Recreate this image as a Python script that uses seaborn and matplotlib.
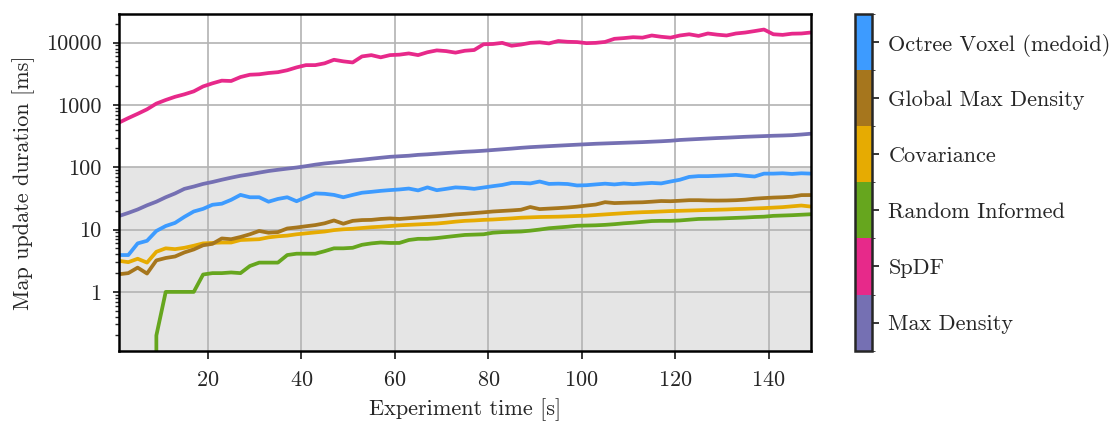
import numpy as np
import pandas as pd
import matplotlib
matplotlib.use("Agg")
import matplotlib.pyplot as plt
import seaborn as sns
from matplotlib.colors import ListedColormap, BoundaryNorm
from matplotlib.cm import ScalarMappable
from matplotlib.ticker import FuncFormatter, NullFormatter

# %% data (one sample every 2 s)
time_s = np.arange(1, 151, 2)

max_density = [16.5, 18.5, 21, 24.5, 28, 33, 38, 45, 49, 54, 58, 63, 68, 73, 77, 82, 87, 91, 95,
               99, 104, 110, 115, 119, 123, 128, 132, 137, 142, 147, 150, 153, 158, 161, 165, 169, 173, 177,
               180, 184, 189, 194, 199, 205, 210, 214, 218, 222, 226, 230, 234, 238, 241, 244, 247, 250, 253,
               257, 261, 266, 274, 279, 284, 289, 294, 298, 303, 308, 312, 316, 320, 323, 327, 335, 345]
spdf = [520, 615, 720, 850, 1050, 1200, 1350, 1480, 1650, 1980, 2220, 2450, 2420, 2800, 3050, 3100, 3250, 3350, 3600,
        4000, 4350, 4350, 4650, 5300, 5000, 4800, 6000, 6290, 5800, 6300, 6400, 6700, 6300, 7000, 7500, 7300, 6900, 7400,
        7600, 9400, 9500, 9900, 8900, 9300, 9900, 10100, 9700, 10600, 10300, 10200, 9800, 9900, 10250, 11500, 11800, 12200, 12000,
        13000, 12400, 12000, 13000, 13600, 12800, 14000, 13400, 13000, 14000, 14500, 15300, 16200, 13600, 13300, 13900, 14000, 14500]
random_informed = [0, 0, 0, 0, 0.2, 1, 1, 1, 1, 1.9, 2, 2, 2.05, 2.0, 2.6, 2.95, 2.95, 2.95, 3.9,
                   4.1, 4.1, 4.1, 4.5, 5.0, 5.0, 5.1, 5.7, 6.0, 6.2, 6.1, 6.1, 6.8, 7.1, 7.1, 7.3, 7.6, 7.9, 8.2,
                   8.3, 8.4, 8.9, 9.1, 9.2, 9.3, 9.6, 10.0, 10.5, 10.8, 11.1, 11.5, 11.6, 11.7, 11.9, 12.2, 12.6, 12.9, 13.3,
                   13.7, 13.8, 13.8, 14.0, 14.4, 14.8, 14.9, 15.0, 15.2, 15.4, 15.6, 15.9, 16.1, 16.6, 16.8, 17.0, 17.3, 17.6]
covariance = [3.15, 3.0, 3.4, 2.95, 4.4, 5.0, 4.85, 5.1, 5.5, 6.0, 6.1, 6.2, 6.2, 6.8, 6.9, 7.0, 7.5, 7.8, 8.0,
              8.4, 8.7, 9.0, 9.3, 9.8, 10.1, 10.3, 10.6, 10.9, 11.1, 11.4, 11.7, 11.9, 12.1, 12.3, 12.5, 12.9, 13.4, 13.8,
              14.0, 14.3, 14.5, 14.8, 15.1, 15.5, 15.7, 15.9, 16.0, 16.1, 16.3, 16.5, 16.7, 17.1, 17.5, 17.9, 18.3, 18.7, 19.0,
              19.2, 19.5, 19.8, 20.0, 20.2, 20.4, 20.6, 20.8, 21.0, 21.3, 21.5, 21.8, 22.1, 22.5, 22.9, 23.6, 24.3, 23.4]
global_max_density = [1.92, 2.0, 2.45, 1.97, 3.2, 3.5, 3.7, 4.3, 4.8, 5.6, 5.9, 7.2, 7.0, 7.6, 8.4, 9.5, 8.9, 9.1, 10.4,
                      10.8, 11.3, 11.8, 12.6, 14.0, 12.4, 13.8, 14.2, 14.3, 14.8, 15.1, 14.8, 15.2, 15.6, 16.0, 16.4, 16.9, 17.5, 17.9,
                      18.4, 18.9, 19.5, 19.9, 20.3, 20.8, 23.0, 21.3, 21.7, 22.1, 22.6, 23.3, 24.3, 25.2, 27.5, 26.6, 26.9, 27.2, 27.4,
                      28.0, 28.7, 28.5, 29.0, 29.6, 29.6, 29.3, 29.2, 29.3, 29.6, 30.2, 31.3, 32.0, 32.6, 33.0, 33.7, 35.7, 35.8]
octree_voxel = [3.9, 3.9, 6.0, 6.6, 9.5, 11.4, 12.8, 16.0, 19.5, 21.5, 25.0, 26.0, 30.0, 36.0, 33.0, 33.0, 28.0, 31.0, 33.0,
                28.5, 33, 38, 37.5, 36, 33, 36, 39, 40.3, 41.8, 43, 44, 45.5, 42.5, 47.5, 42.8, 45, 47.5, 46.7,
                45, 47.3, 49.7, 52, 56, 56, 55, 59, 54, 54.5, 53.8, 51, 51.5, 53, 54.5, 53, 54.8, 53.5, 54.8,
                56, 55, 59, 63, 70, 72, 72, 73, 74, 75.5, 73, 71, 79, 79, 80, 78, 80, 79]

methods = ["Max Density", "SpDF", "Random Informed", "Covariance",
           "Global Max Density", "Octree Voxel (medoid)"]
colors = ["#7570b3", "#e7298a", "#66a61e", "#e6ab02", "#a6761d", "#3d9bff"]
series = [max_density, spdf, random_informed, covariance, global_max_density, octree_voxel]

df = pd.concat(
    [pd.DataFrame({"time": time_s, "duration": vals, "method": m}) for m, vals in zip(methods, series)],
    ignore_index=True,
)

# %% style
sns.set_style("ticks")
plt.rcParams["font.family"] = "serif"
plt.rcParams["font.serif"] = ["cmr10", "DejaVu Serif"]
plt.rcParams["mathtext.fontset"] = "cm"
plt.rcParams["axes.formatter.use_mathtext"] = True
plt.rcParams["axes.unicode_minus"] = False

fig = plt.figure(figsize=(11.15, 4.23), dpi=100)
ax = fig.add_axes([0.1067, 0.171, 0.6204, 0.796])
cax = fig.add_axes([0.7668, 0.171, 0.015, 0.796])

sns.lineplot(data=df, x="time", y="duration", hue="method", hue_order=methods,
             palette=colors, linewidth=2.7, estimator=None, legend=False, ax=ax)

ax.set_yscale("log")
ax.set_xlim(1, 149)
ax.set_ylim(0.114, 28800)
ax.axhspan(1e-3, 100, color="#e5e5e5", zorder=0, lw=0)
ax.set_axisbelow(True)
ax.grid(True, which="major", color="#b3b3b3", linewidth=1.2)
ax.set_xticks([20, 40, 60, 80, 100, 120, 140])
ax.yaxis.set_major_formatter(FuncFormatter(lambda v, _: f"{v:g}"))
ax.yaxis.set_minor_formatter(NullFormatter())
for s in ax.spines.values():
    s.set_visible(True)
    s.set_color("black")
    s.set_linewidth(1.8)
ax.tick_params(axis="x", which="major", length=6, width=1.3, pad=8, labelsize=16)
ax.tick_params(axis="y", which="major", length=4.5, width=1.3, pad=8, labelsize=16)
ax.tick_params(axis="y", which="minor", length=2.8, width=1.0)
ax.set_xlabel("Experiment time [s]", fontsize=16, labelpad=6)
ax.set_ylabel("Map update duration [ms]", fontsize=16, labelpad=8)

# %% colour bar legend
cmap = ListedColormap(colors)
norm = BoundaryNorm(np.arange(len(methods) + 1), cmap.N)
cb = fig.colorbar(ScalarMappable(norm=norm, cmap=cmap), cax=cax,
                  ticks=np.arange(len(methods)) + 0.5)
cb.set_ticklabels(methods)
cb.outline.set_linewidth(1.8)
cax.tick_params(length=5, width=1.3, pad=7, labelsize=16)

fig.savefig("out.png", dpi=100)
